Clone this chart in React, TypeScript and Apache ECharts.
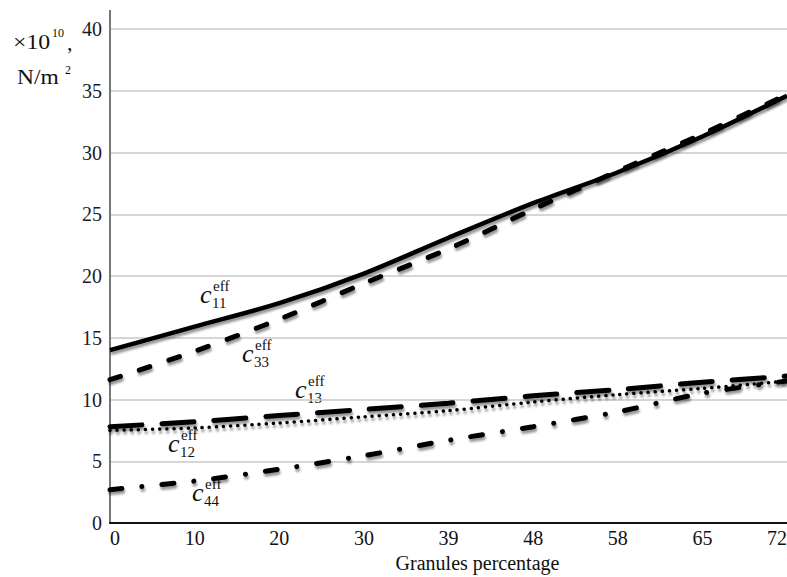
import React, { useEffect, useRef } from "react";
import * as echarts from "echarts";

const categories = ["0", "10", "20", "30", "39", "48", "58", "65", "72"];
const c11 = [14.0, 15.9, 17.8, 20.2, 23.1, 25.9, 28.4, 31.3, 34.6];
const c33 = [11.6, 13.9, 16.5, 19.4, 22.2, 25.4, 28.5, 31.5, 34.7];
const c13 = [7.8, 8.2, 8.7, 9.2, 9.7, 10.3, 10.8, 11.4, 11.9];
const c12 = [7.5, 7.7, 8.1, 8.6, 9.1, 9.8, 10.4, 10.9, 11.5];
const c44 = [2.7, 3.4, 4.35, 5.45, 6.7, 7.8, 9.0, 10.5, 11.5];
const yMin = 0;
const yMax = 40;
const yInterval = 5;
const xName = "Granules percentage";

const serif = "Liberation Serif, Times New Roman, serif";
const ink = "#111";

function curveLabel(x: number, b: number, sub: string) {
  return {
    type: "group",
    x,
    y: b,
    children: [
      {
        type: "text",
        x: 0,
        y: -8.8,
        style: { text: "c", fontSize: 26, fontStyle: "italic", fontFamily: serif, fill: ink, verticalAlign: "middle", align: "left" },
      },
      {
        type: "text",
        x: 13,
        y: -17.1,
        style: { text: "eff", fontSize: 15, fontFamily: serif, fill: ink, verticalAlign: "middle", align: "left" },
      },
      {
        type: "text",
        x: 12,
        y: -0.1,
        style: { text: sub, fontSize: 15, fontFamily: serif, fill: ink, verticalAlign: "middle", align: "left" },
      },
    ],
  };
}

export default function App() {
  const ref = useRef<HTMLDivElement>(null);
  useEffect(() => {
    if (!ref.current) return;
    const chart = echarts.init(ref.current, undefined, { renderer: "svg" });
    const shadow = { shadowColor: "rgba(0,0,0,0.4)", shadowBlur: 2, shadowOffsetX: 1, shadowOffsetY: 3 };
    const option: any = {
      animation: false,
      backgroundColor: "#fff",
      textStyle: { fontFamily: serif },
      grid: { left: 110, right: 0, top: 29, bottom: 54, containLabel: false, outerBoundsMode: "none" },
      xAxis: {
        type: "category",
        data: categories,
        boundaryGap: false,
        axisLine: { lineStyle: { color: "#111", width: 2 } },
        axisTick: { show: false },
        axisLabel: { color: ink, fontSize: 20, fontFamily: serif, margin: 5, alignMinLabel: "left", alignMaxLabel: "right", hideOverlap: false },
        name: xName,
        nameLocation: "middle",
        nameGap: 30,
        nameTextStyle: { color: ink, fontSize: 20, fontFamily: serif, padding: [0, 0, 0, 58] },
      },
      yAxis: {
        type: "value",
        min: yMin,
        max: yMax,
        interval: yInterval,
        axisLine: { show: true, lineStyle: { color: "#777", width: 2 } },
        axisTick: { show: false },
        axisLabel: { color: "#1a1a2a", fontSize: 20, fontFamily: serif, margin: 8 },
        splitLine: { lineStyle: { color: "#c8c8c8", width: 1.5 } },
      },
      series: [
        { name: "c11", type: "line", data: c11, smooth: 0.3, symbol: "none", lineStyle: { color: "#000", width: 4.5, ...shadow } },
        { name: "c33", type: "line", data: c33, smooth: 0.3, symbol: "none", lineStyle: { color: "#000", width: 5, type: [11, 20], cap: "round", ...shadow } },
        { name: "c12", type: "line", data: c12, smooth: 0.3, symbol: "none", lineStyle: { color: "#000", width: 3.5, type: [0.1, 7], cap: "round", ...shadow } },
        { name: "c13", type: "line", data: c13, smooth: 0.3, symbol: "none", lineStyle: { color: "#000", width: 5, type: [32, 20], cap: "round", ...shadow } },
        { name: "c44", type: "line", data: c44, smooth: 0.3, symbol: "none", lineStyle: { color: "#000", width: 5, type: [12, 20, 0.1, 20], cap: "round", ...shadow } },
      ],
      graphic: [
        { type: "line", shape: { x1: 110, y1: 10, x2: 110, y2: 30 }, style: { stroke: "#777", lineWidth: 2 } },
        { type: "text", x: 13, y: 42, scaleX: 1.08, style: { text: "×10", fontSize: 22, fontFamily: serif, fill: ink, verticalAlign: "middle" } },
        { type: "text", x: 52, y: 33, style: { text: "10", fontSize: 12, fontFamily: serif, fill: ink, verticalAlign: "middle" } },
        { type: "text", x: 67, y: 42, style: { text: ",", fontSize: 22, fontFamily: serif, fill: ink, verticalAlign: "middle" } },
        { type: "text", x: 17, y: 77, scaleX: 1.12, style: { text: "N/m", fontSize: 21, fontFamily: serif, fill: ink, verticalAlign: "middle" } },
        { type: "text", x: 65, y: 70, style: { text: "2", fontSize: 12, fontFamily: serif, fill: ink, verticalAlign: "middle" } },
        { type: "rect", shape: { x: 291, y: 395, width: 38, height: 8 }, style: { fill: "#fff" } },
        curveLabel(200, 303, "11"),
        curveLabel(242, 362, "33"),
        curveLabel(295, 398, "13"),
        curveLabel(168, 452, "12"),
        curveLabel(192, 501, "44"),
      ],
    };
    chart.setOption(option);
    return () => chart.dispose();
  }, []);
  return <div ref={ref} style={{ position: "fixed", left: 0, top: 0, width: 787, height: 577, background: "#fff" }} />;
}
